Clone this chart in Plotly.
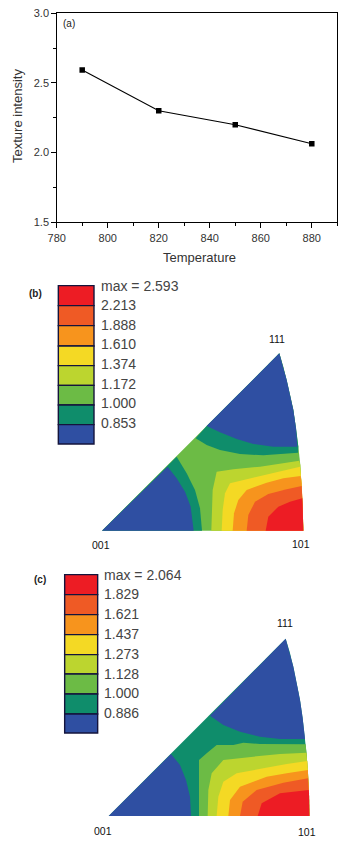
import plotly.graph_objects as go

W, H = 352, 843
temperature = [790, 820, 850, 880]
intensity = [2.593, 2.30, 2.20, 2.064]

colors = ["#ed1c24", "#ef5a25", "#f7941d", "#f4d924", "#bcd52f", "#6cbb45", "#0f8d6b", "#2f4fa2"]
labels_b = ["max = 2.593", "2.213", "1.888", "1.610", "1.374", "1.172", "1.000", "0.853"]
labels_c = ["max = 2.064", "1.829", "1.621", "1.437", "1.273", "1.128", "1.000", "0.886"]

# contour outlines, in 3x crop pixels
arc_b = [(778, 250), (790, 290), (800, 330), (810, 375), (820, 420), (828, 475), (835, 530), (841, 585), (845, 640), (848, 710), (850, 782)]
base_b = [(246, 782), (778, 250)]
teal_left_b = [(246, 782), (470, 560), (500, 610), (525, 660), (540, 715), (546, 782)]
blue_left_b = [(246, 782), (443, 590), (470, 625), (495, 665), (512, 710), (521, 782)]
teal_top_b = [(527, 505), (560, 468), (778, 250)]
teal_top_b_end = [(834, 548), (730, 556), (660, 552), (600, 540), (560, 525)]
blue_top_b_end = [(832, 530), (760, 530), (700, 522), (650, 507), (600, 487), (560, 468)]
lime_b = [(574, 782), (575, 730), (578, 660), (590, 605), (640, 598), (720, 590), (790, 580), (838, 572)]
yellow_b = [(605, 782), (608, 720), (615, 670), (630, 640), (680, 628), (760, 610), (840, 590)]
orange_b = [(638, 782), (642, 730), (655, 690), (680, 660), (740, 638), (790, 625), (842, 618)]
redorange_b = [(680, 782), (685, 735), (705, 695), (745, 672), (800, 658), (845, 648)]
red_b = [(737, 782), (745, 740), (775, 710), (810, 695), (847, 685)]

arc_c = [(797, 236), (809, 276), (820, 320), (830, 370), (840, 420), (848, 475), (855, 530), (860, 585), (864, 640), (867, 700), (868, 768)]
base_c = [(266, 768), (797, 236)]
blue_left_c = [(266, 768), (453, 582), (480, 615), (498, 660), (510, 710), (513, 768)]
blue_top_c_end = [(855, 537), (780, 537), (720, 530), (660, 515), (610, 495), (570, 467)]
green_c = [(537, 768), (537, 600), (560, 580), (590, 555), (640, 555), (670, 548), (720, 552), (857, 553)]
lime_c = [(563, 768), (565, 690), (575, 640), (610, 600), (700, 590), (780, 582), (860, 578)]
yellow_c = [(590, 768), (595, 710), (610, 665), (650, 640), (730, 625), (800, 612), (862, 603)]
orange_c = [(625, 768), (630, 720), (660, 680), (740, 650), (800, 640), (864, 630)]
redorange_c = [(660, 768), (668, 725), (710, 690), (790, 668), (864, 655)]
red_c = [(713, 768), (725, 730), (780, 700), (866, 690)]

edges_b = [47, 107, 167, 228, 287, 346, 405, 464, 522]
edges_c = [44, 104, 164, 224, 284, 342, 402, 462, 519]


def tail(arc, y):
    return [p for p in arc if p[1] > y]


def head(arc, y):
    return [p for p in arc if p[1] < y]


fig = go.Figure()
fig.add_trace(go.Scatter(x=temperature, y=intensity, mode="lines+markers",
                         line=dict(color="#000", width=1.1),
                         marker=dict(symbol="square", size=5.5, color="#000"),
                         xaxis="x", yaxis="y", showlegend=False))


def poly(pts, color, ox, oy):
    fig.add_trace(go.Scatter(x=[ox + p[0] / 3 for p in pts], y=[oy + p[1] / 3 for p in pts],
                             mode="lines", fill="toself", fillcolor=color,
                             line=dict(width=0, color=color), xaxis="x2", yaxis="y2",
                             showlegend=False, hoverinfo="skip"))


def band(pts, arc, color, ox, oy):
    poly(pts + tail(arc, pts[-1][1]), color, ox, oy)


# panel b
ox, oy = 20, 270
poly(base_b + arc_b, colors[5], ox, oy)
poly(teal_left_b, colors[6], ox, oy)
poly(blue_left_b, colors[7], ox, oy)
poly(teal_top_b + head(arc_b, 548) + teal_top_b_end, colors[6], ox, oy)
poly(head(arc_b, 530) + blue_top_b_end, colors[7], ox, oy)
for pts, c in zip([lime_b, yellow_b, orange_b, redorange_b, red_b],
                  [colors[4], colors[3], colors[2], colors[1], colors[0]]):
    band(pts, arc_b, c, ox, oy)

# panel c
ox2, oy2 = 20, 560
poly(base_c + arc_c, colors[6], ox2, oy2)
poly(blue_left_c, colors[7], ox2, oy2)
poly(head(arc_c, 537) + blue_top_c_end, colors[7], ox2, oy2)
for pts, c in zip([green_c, lime_c, yellow_c, orange_c, redorange_c, red_c],
                  [colors[5], colors[4], colors[3], colors[2], colors[1], colors[0]]):
    band(pts, arc_c, c, ox2, oy2)


def legend(edges, left, right, ox, oy):
    x = ox + (left + right) / 6
    w = (right - left) / 3
    fig.add_trace(go.Bar(x=[x] * 8, base=[oy + e / 3 for e in edges[:-1]],
                         y=[(edges[i + 1] - edges[i]) / 3 for i in range(8)],
                         width=w, marker=dict(color=colors, line=dict(color="#14143c", width=1.4)),
                         xaxis="x2", yaxis="y2", showlegend=False, hoverinfo="skip"))


legend(edges_b, 115, 222, ox, oy)
legend(edges_c, 134, 233, ox2, oy2)

FONT = "Liberation Sans"
notes = []


def note(x, y, text, size=11, color="#222", anchor="center", bold=False, angle=0):
    notes.append(dict(x=x, y=y, xref="x2", yref="y2", text=f"<b>{text}</b>" if bold else text,
                      showarrow=False, xanchor=anchor, yanchor="middle", textangle=angle,
                      font=dict(family=FONT, size=size, color=color)))


note(69, 23, "(a)", 10)
note(199, 257, "Temperature", 13, "#333")
note(17, 116, "Texture intensity", 13, "#333", angle=-90)
note(35, 293, "(b)", 10, bold=True)
note(40, 579, "(c)", 10, bold=True)
for i, t in enumerate(labels_b):
    note(98.5, 285.5 + i * 19.6, t, 14, "#444", "left")
for i, t in enumerate(labels_c):
    note(102, 574.5 + i * 19.8, t, 14, "#444", "left")
note(277, 339, "111", 10.5, "#111")
note(101, 545, "001", 10.5, "#111")
note(301, 544, "101", 10.5, "#111")
note(285, 623, "111", 10.5, "#111")
note(103, 831, "001", 10.5, "#111")
note(307, 832, "101", 10.5, "#111")

fig.update_layout(
    template="none",
    width=W, height=H, margin=dict(l=0, r=0, t=0, b=0, pad=0), autosize=False,
    paper_bgcolor="white", plot_bgcolor="rgba(0,0,0,0)", barmode="overlay", annotations=notes,
    xaxis=dict(domain=[56.7 / W, 337.3 / W], range=[780, 890], dtick=20, tick0=780,
               ticks="outside", ticklen=4.5, tickwidth=1, tickcolor="#000", showline=True,
               mirror=True, linecolor="#000", linewidth=1, showgrid=False, zeroline=False,
               automargin=False, ticklabelstandoff=1,
               minor=dict(dtick=10, ticks="outside", ticklen=2.5, tickcolor="#000", showgrid=False),
               tickfont=dict(family=FONT, size=11, color="#333"), anchor="y"),
    yaxis=dict(domain=[1 - 222.3 / H, 1 - 13.3 / H], range=[1.5, 3], dtick=0.5, tick0=1.5,
               tickformat=".1f", ticks="outside", ticklen=4.5, tickwidth=1, tickcolor="#000",
               showline=True, mirror=True, linecolor="#000", linewidth=1, showgrid=False,
               zeroline=False, automargin=False,
               minor=dict(dtick=0.25, ticks="outside", ticklen=2.5, tickcolor="#000", showgrid=False),
               tickfont=dict(family=FONT, size=11, color="#333"), anchor="x"),
    xaxis2=dict(domain=[0, 1], range=[0, W], visible=False, anchor="y2", automargin=False),
    yaxis2=dict(domain=[0, 1], range=[H, 0], visible=False, anchor="x2", automargin=False),
)
fig.write_html("out.html", config=dict(displayModeBar=False),
               post_script="document.body.style.margin='0';document.documentElement.style.overflow='hidden';")
